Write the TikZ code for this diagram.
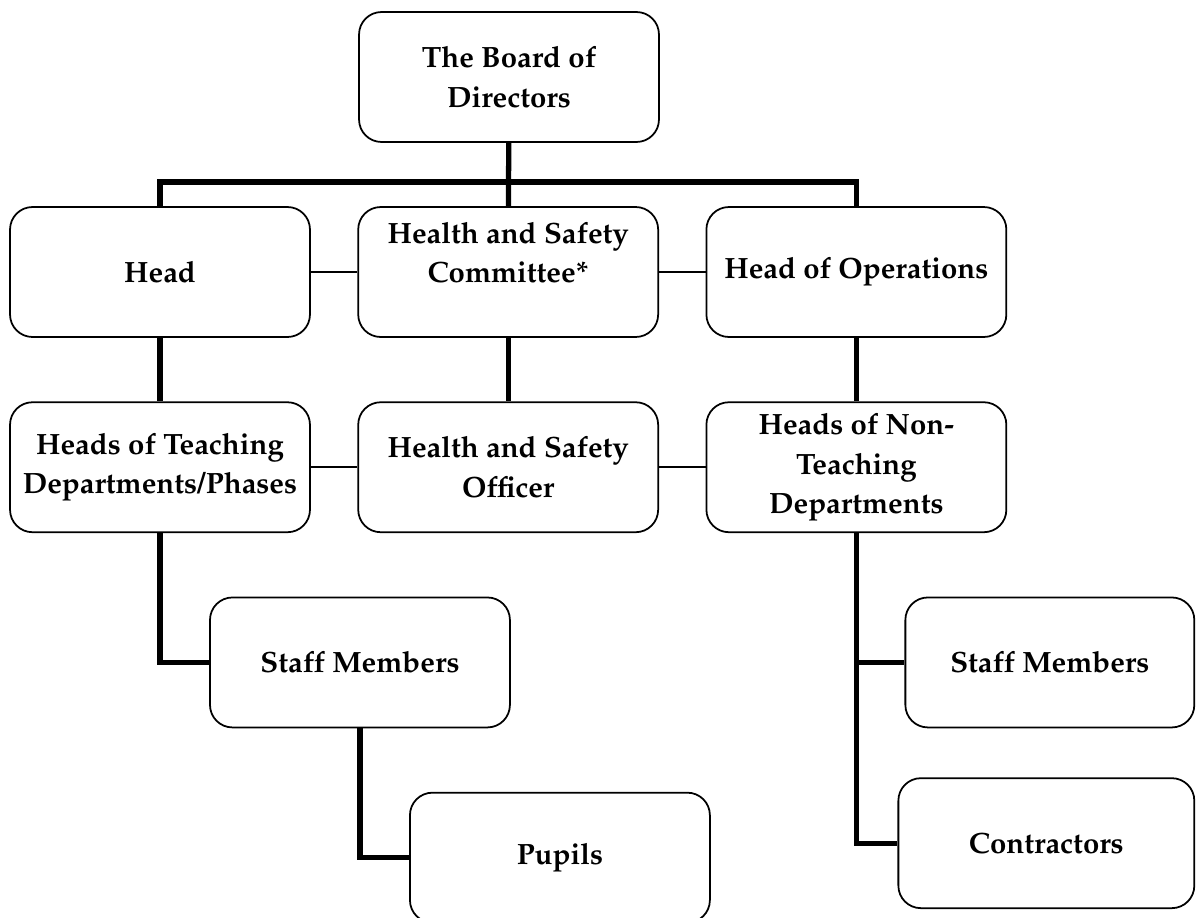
\documentclass[tikz,border=0pt]{standalone}
\usepackage[T1]{fontenc}
\usepackage{mathpazo}
\usetikzlibrary{positioning}
\tikzstyle{unit}=[draw, line width=1pt, rounded corners=0.45cm, minimum width=6cm,
                minimum height=2.6cm, inner sep=2pt, align=center,
                font=\bfseries\fontsize{16.7}{22.5}\selectfont]
\tikzstyle{trunk}=[line width=3pt]
\tikzstyle{link}=[line width=1.1pt]
\begin{document}
\begin{tikzpicture}[x=0.02cm,y=-0.02cm]
  \useasboundingbox (0,0) rectangle (1197,917);
  \node[unit] (board) at (509,77) {The Board of\\Directors};
  \node[unit] (head) at (160,272) {Head};
  \node[unit, right = 0.93cm of head] (hsc) {Health and Safety\\Committee*\\\mbox{}};
  \node[unit, right = 0.93cm of hsc] (ops) {Head of Operations};
  \node[unit, below = 1.27cm of head] (hotd) {Heads of Teaching\\Departments/Phases};
  \node[unit, below = 1.27cm of hsc] (hso) {Health and Safety\\Officer};
  \node[unit, below = 1.27cm of ops] (hontd) {Heads of Non-\\Teaching\\Departments};
  \node[unit, below = 1.27cm of hotd, xshift=4cm] (staffL) {Staff Members};
  \node[unit, below = 1.27cm of staffL, xshift=4cm] (pupils) {Pupils};
  \node[unit, minimum width=5.78cm, below = 1.27cm of hontd, xshift=3.87cm] (staffR) {Staff Members};
  \node[unit, minimum width=5.92cm, below = 0.98cm of staffR, xshift=-0.07cm] (contr) {Contractors};

  % top bus
  \coordinate (bus) at (509,182);
  \draw[trunk] (board) -- (hsc);
  \draw[trunk] (head.north) |- (bus) -| (ops.north);
  \draw[link] (head) -- (hsc);
  \draw[link] (hsc) -- (ops);
  \draw[trunk] (head) -- (hotd);
  \draw[trunk] (hsc) -- (hso);
  \draw[trunk] (ops) -- (hontd);
  \draw[link] (hotd) -- (hso);
  \draw[link] (hso) -- (hontd);

  % lower branches
  \draw[trunk] (hotd.south) |- (staffL.west);
  \draw[trunk] (staffL.south) |- (pupils.west);
  \draw[trunk] (hontd.south) |- (contr.west);
  \draw[trunk] (hontd.south |- staffR.west) -- (staffR.west);
\end{tikzpicture}
\end{document}
